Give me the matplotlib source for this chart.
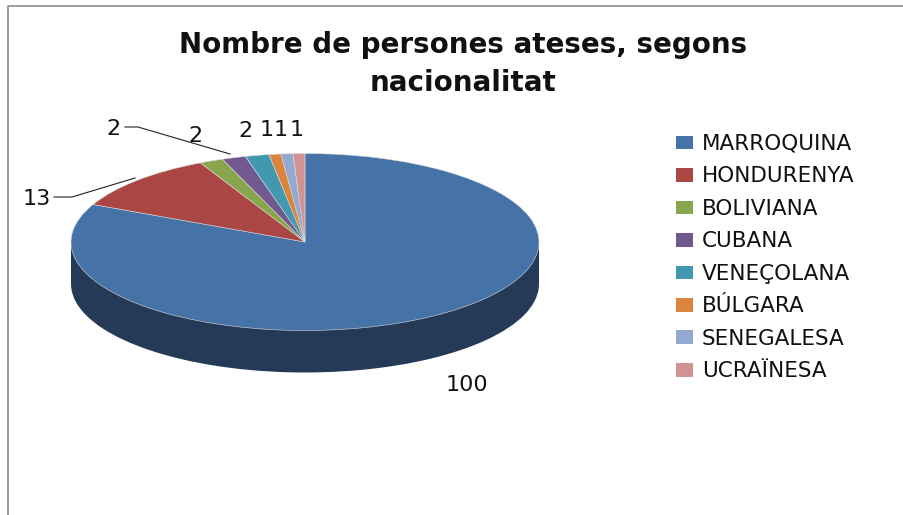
import matplotlib
matplotlib.use('Agg')
import matplotlib.pyplot as plt
from matplotlib.lines import Line2D
from matplotlib.patches import Patch

W, H = 904, 515

categories = ['MARROQUINA', 'HONDURENYA', 'BOLIVIANA', 'CUBANA',
              'VENEÇOLANA', 'BÚLGARA', 'SENEGALESA', 'UCRAÏNESA']
values = [100, 13, 2, 2, 2, 1, 1, 1]
colors = ['#4572a7', '#aa4643', '#89a54e', '#71588f',
          '#4198af', '#db843d', '#93a9cf', '#d19392']
title = 'Nombre de persones ateses, segons\nnacionalitat'

# pie centre and radii in pixels, the tilt comes from the axis limits
cx, cy, rx, ry = 305, 242, 234, 88.5
depth = 42 / ry

# pixel centres of the value labels, same order as values
label_pos = [(467, 385), (37, 199), (113, 129), (195, 136),
             (245, 131), (267, 130), (281, 130), (297, 130)]


def fx(x):
    return x / W


def fy(y):
    return 1 - y / H


fig = plt.figure(figsize=(W / 100, H / 100), dpi=100, facecolor='white')
ax = fig.add_axes([0, 0, 1, 1])

# side wall: same pie shifted down, plus the band between the two
ax.pie(values, colors=['#243a56'] * len(values), startangle=90, counterclock=False,
       center=(0, -depth), wedgeprops={'linewidth': 0})
ax.fill_between([-1, 1], [0, 0], [-depth, -depth], color='#243a56', linewidth=0)
wedges, _ = ax.pie(values, colors=colors, startangle=90, counterclock=False,
                   wedgeprops={'linewidth': 0.4, 'edgecolor': '#dddddd'})

ax.set_aspect('auto')
ax.set_xlim(-cx / rx, (W - cx) / rx)
ax.set_ylim((cy - H) / ry, cy / ry)
ax.axis('off')

fig.text(fx(463), fy(64), title, ha='center', va='center', fontsize=20,
         fontweight='bold', color='#111111', linespacing=1.42)

for val, (x, y) in zip(values, label_pos):
    fig.text(fx(x), fy(y), str(val), ha='center', va='center', fontsize=16, color='#111111')

# leader lines
for xs, ys in [([54, 72, 135], [197, 197, 178]), ([125, 138, 230], [127, 127, 154])]:
    fig.add_artist(Line2D([fx(v) for v in xs], [fy(v) for v in ys], color='#222222', lw=0.8))

# chart area border, only top and left are visible
fig.add_artist(Line2D([fx(8), fx(8), 1], [0, fy(5.5), fy(5.5)], color='#8c8c8c', lw=1.2))

handles = [Patch(facecolor=c, label=n) for c, n in zip(colors, categories)]
fig.legend(handles=handles, loc='upper left', bbox_to_anchor=(fx(676), fy(134)),
           frameon=False, fontsize=15.5, labelspacing=0.58, handlelength=0.79,
           handleheight=0.6, handletextpad=0.42, borderpad=0, borderaxespad=0,
           labelcolor='#111111')

fig.savefig('out.png', dpi=100)
